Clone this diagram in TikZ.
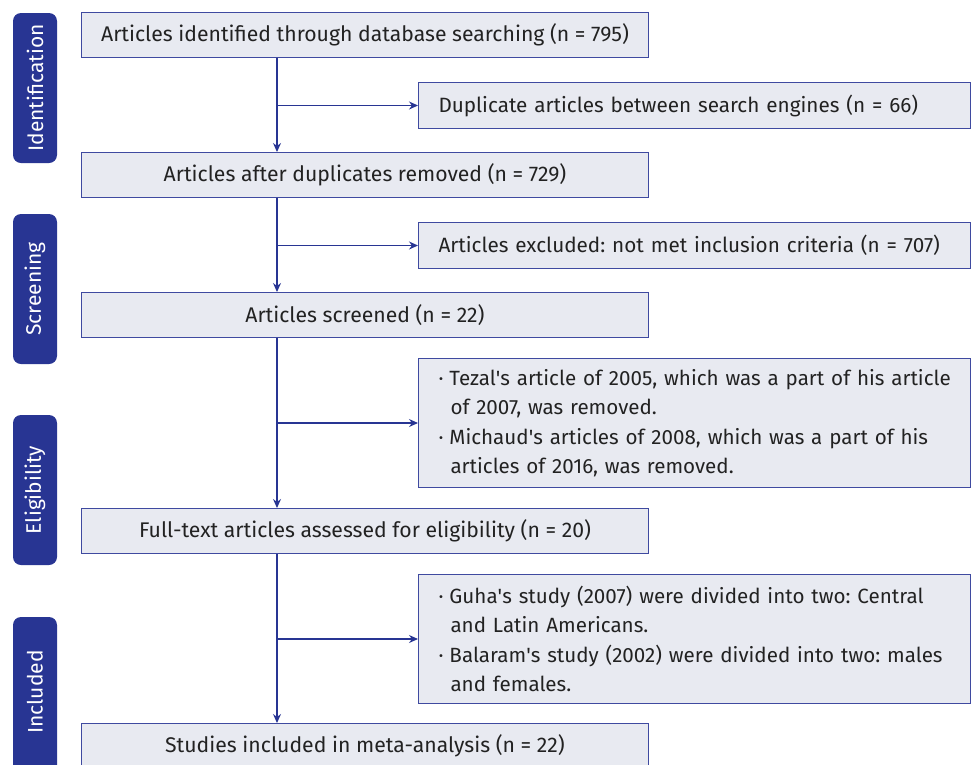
\documentclass[tikz,border=0pt]{standalone}
\usepackage{fontspec}
\setmainfont{Fira Sans}
\usetikzlibrary{arrows.meta}
\definecolor{navy}{HTML}{283593}
\definecolor{boxfill}{HTML}{E8EAF1}
\definecolor{boxline}{HTML}{3F4AA0}
\definecolor{txt}{HTML}{222222}
\tikzset{
  mainbox/.style={draw=boxline, line width=1pt, fill=boxfill, anchor=north west, minimum width=567pt, minimum height=45pt, inner sep=0pt, font=\fontsize{21.2pt}{25pt}\selectfont, text=txt},
  sidebox/.style={draw=boxline, line width=1pt, fill=boxfill, anchor=north west, minimum height=46pt, inner xsep=20pt, inner ysep=0pt, text width=512pt, align=left, font=\fontsize{20.7pt}{25pt}\selectfont, text=txt},
  listbox/.style={draw=boxline, line width=1pt, fill=boxfill, anchor=north west, minimum height=129pt, inner xsep=20pt, inner ysep=0pt, text width=512pt, align=left, font=\fontsize{20.6pt}{28.5pt}\selectfont, text=txt},
  phaselbl/.style={fill=navy, rounded corners=8pt, minimum width=44pt, inner sep=0pt},
  phasetxt/.style={rotate=90, text=white, font=\fontsize{21pt}{25pt}\selectfont},
  arr/.style={draw=navy, line width=1.2pt, -{Stealth[length=9pt,width=8pt]}}
}
\newcommand{\itm}[2]{\mbox{\makebox[11pt][l]{·}#1}\par\hspace*{12pt}#2}
\newcommand{\sq}{\textquotesingle}
\hfuzz=50pt
\begin{document}
\frenchspacing
\begin{tikzpicture}[x=1pt,y=-1pt]
\useasboundingbox (0,0) rectangle (975,764);
\begin{scope}
\clip (0,0) rectangle (975,764);
% phase labels
\node[phaselbl, minimum height=150pt] (p1) at (35,88) {};
\node[phasetxt] (p1t) at (p1.center) {Identification};
\node[phaselbl, minimum height=150pt] (p2) at (35,289) {};
\node[phasetxt] (p2t) at (p2.center) {Screening};
\node[phaselbl, minimum height=150pt] (p3) at (35,490) {};
\node[phasetxt] (p3t) at (p3.center) {Eligibility};
\node[phaselbl, minimum height=160pt] (p4) at (35,697) {};
\node[phasetxt] (p4t) at (35,692) {Included};

% main boxes
\node[mainbox] (b1) at (81,12) {Articles identified through database searching (n = 795)};
\node[mainbox] (b2) at (81,152) {Articles after duplicates removed (n = 729)};
\node[mainbox] (b3) at (81,292) {Articles screened (n = 22)};
\node[mainbox] (b4) at (81,508) {Full-text articles assessed for eligibility (n = 20)};
\node[mainbox] (b5) at (81,723) {Studies included in meta-analysis (n = 22)};

% side boxes
\node[sidebox] (s1) at (418,82) {Duplicate articles between search engines (n = 66)};
\node[sidebox] (s2) at (418,222) {Articles excluded: not met inclusion criteria (n = 707)};
\node[listbox] (s3) at (418,358) {\itm{Tezal\sq s article of 2005, which was a part of his article}{of 2007, was removed.}\par\vspace{2pt}\itm{Michaud\sq s articles of 2008, which was a part of his}{articles of 2016, was removed.}};
\node[listbox] (s4) at (418,574) {\itm{Guha\sq s study (2007) were divided into two: Central}{and Latin Americans.}\par\vspace{2pt}\itm{Balaram\sq s study (2002) were divided into two: males}{and females.}};

% connectors
\coordinate (v) at (277,0);
\draw[arr] (v |- b1.south) -- (v |- b2.north);
\draw[arr] (v |- b2.south) -- (v |- b3.north);
\draw[arr] (v |- b3.south) -- (v |- b4.north);
\draw[arr] (v |- b4.south) -- (v |- b5.north);
\draw[arr] (v |- s1.west) -- (s1.west);
\draw[arr] (v |- s2.west) -- (s2.west);
\draw[arr] (v |- s3.west) -- (s3.west);
\draw[arr] (v |- s4.west) -- (s4.west);
\end{scope}
\end{tikzpicture}
\end{document}
